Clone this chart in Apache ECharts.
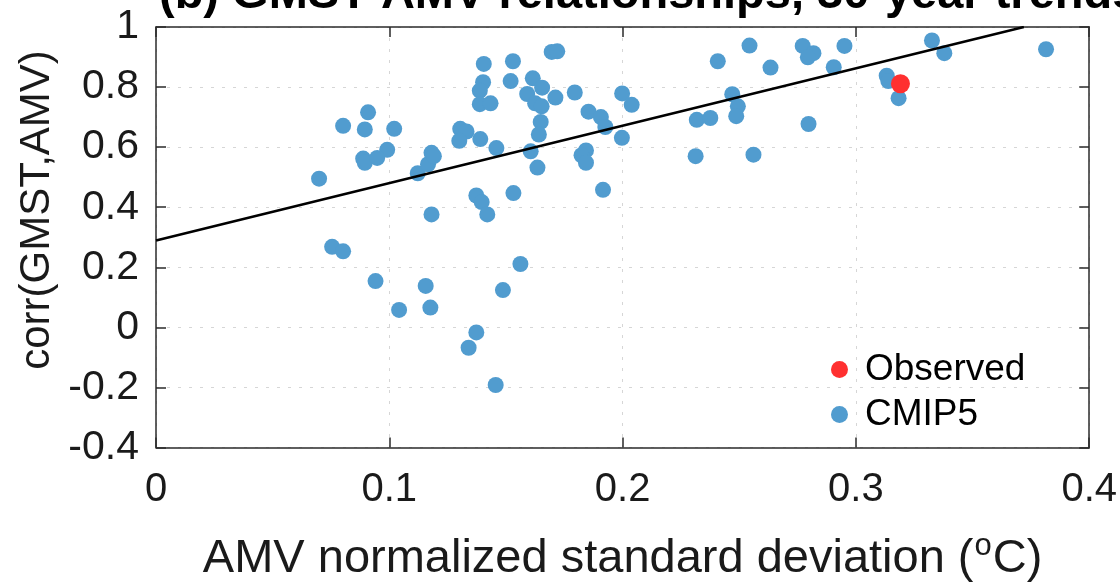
<!DOCTYPE html>
<html>
<head>
<meta charset="utf-8">
<script src="https://cdn.jsdelivr.net/npm/echarts@6/dist/echarts.min.js"></script>
<style>
html,body{margin:0;padding:0;background:#fff;}
#c{width:1120px;height:588px;}
</style>
</head>
<body>
<div id="c"></div>
<script>
// ---- data ----
const cmipX = [0.0699,0.0755,0.0802,0.0802,0.0909,0.0895,0.1021,0.0991,0.0888,0.0895,
  0.0948,0.1122,0.1166,0.1181,0.1191,0.1181,0.0941,0.1042,0.1156,0.1176,
  0.1304,0.1331,0.1300,0.1373,0.1396,0.1420,0.1340,0.1373,0.1456,0.1487,
  0.1562,0.1405,0.1402,0.1388,0.1388,0.1434,0.1390,0.1459,0.1530,0.1520,
  0.1532,0.1696,0.1720,0.1615,0.1655,0.1591,0.1625,0.1653,0.1712,0.1649,
  0.1641,0.1606,0.1635,0.1795,0.1854,0.1907,0.1926,0.1843,0.1824,0.1843,
  0.1916,0.1998,0.2039,0.1997,0.2408,0.2544,0.2634,0.2470,0.2494,0.2487,
  0.2318,0.2376,0.2313,0.2561,0.2772,0.2818,0.2794,0.2951,0.2905,0.2797,
  0.3326,0.3379,0.3815,0.3132,0.3139,0.3183];
const cmipY = [0.495,0.268,0.253,0.671,0.716,0.659,0.661,0.591,0.562,0.548,
  0.564,0.513,0.543,0.581,0.570,0.376,0.154,0.058,0.138,0.066,
  0.661,0.652,0.621,0.439,0.417,0.376,-0.068,-0.017,-0.192,0.124,
  0.211,0.877,0.816,0.788,0.743,0.746,0.627,0.597,0.886,0.820,
  0.447,0.917,0.919,0.829,0.798,0.777,0.746,0.736,0.765,0.684,
  0.642,0.586,0.532,0.782,0.718,0.700,0.667,0.589,0.573,0.548,
  0.458,0.779,0.741,0.631,0.886,0.938,0.865,0.776,0.736,0.703,
  0.691,0.697,0.570,0.575,0.937,0.913,0.899,0.937,0.866,0.677,
  0.955,0.913,0.926,0.838,0.820,0.763];
const obsX = [0.3191];
const obsY = [0.811];
const trendX = [0, 0.372];
const trendY = [0.289, 1.0];
const seriesNames = ['Observed', 'CMIP5'];
const titleText = '(b) GMST-AMV relationships, 30-year trends';
const yAxisTitle = 'corr(GMST,AMV)';
const xAxisTitleParts = ['AMV normalized standard deviation (', 'o', 'C)'];

// ---- chart ----
const FONT = '"Liberation Sans", Arial, Helvetica, sans-serif';
const AXC = '#2b2b2b';
const TXT = '#1a1a1a';
const zip = (a, b) => a.map((v, i) => [v, b[i]]);

const chart = echarts.init(document.getElementById('c'), null, {renderer: 'canvas'});
const gridLine = {show: true, lineStyle: {color: '#d6d6d6', width: 1, type: [3, 8]}};
const common = {
  axisLine: {show: true, onZero: false, lineStyle: {color: AXC, width: 1.5}},
  axisTick: {show: true, inside: true, length: 10, lineStyle: {color: AXC, width: 1.5}},
};
chart.setOption({
  animation: false,
  backgroundColor: '#ffffff',
  title: {
    text: titleText, left: 154, top: -33,
    textStyle: {fontFamily: FONT, fontSize: 47, fontWeight: 'bold', color: '#000'}
  },
  grid: {left: 156, right: 30, top: 27, bottom: 135, containLabel: false},
  legend: {
    orient: 'vertical', left: 826, top: 346, itemGap: 8,
    itemWidth: 41, itemHeight: 17, icon: 'circle',
    data: seriesNames,
    textStyle: {fontFamily: FONT, fontSize: 37, color: '#000'}
  },
  xAxis: [
    Object.assign({
      type: 'value', min: 0, max: 0.4, interval: 0.1, position: 'bottom',
      splitLine: gridLine,
      axisLabel: {fontFamily: FONT, fontSize: 40, color: TXT, margin: 22},
      name: '{a|' + xAxisTitleParts[0] + '}{s|' + xAxisTitleParts[1] + '}{a|' + xAxisTitleParts[2] + '}',
      nameLocation: 'middle', nameGap: 83,
      nameTextStyle: {
        fontFamily: FONT, fontSize: 47, color: TXT,
        rich: {
          a: {fontFamily: FONT, fontSize: 47, color: TXT},
          s: {fontFamily: FONT, fontSize: 31, color: TXT, padding: [0, 1, 27, 1]}
        }
      }
    }, common),
    Object.assign({
      type: 'value', min: 0, max: 0.4, interval: 0.1, position: 'top',
      splitLine: {show: false}, axisLabel: {show: false}
    }, common)
  ],
  yAxis: [
    Object.assign({
      type: 'value', min: -0.4, max: 1, interval: 0.2, position: 'left',
      splitLine: gridLine,
      axisLabel: {fontFamily: FONT, fontSize: 41, color: TXT, margin: 17}
    }, common),
    Object.assign({
      type: 'value', min: -0.4, max: 1, interval: 0.2, position: 'right',
      splitLine: {show: false}, axisLabel: {show: false}
    }, common)
  ],
  graphic: [{
    type: 'text', x: 37, y: 210, rotation: Math.PI / 2,
    style: {text: yAxisTitle, fontFamily: FONT, fontSize: 42, fill: TXT,
      textAlign: 'center', textVerticalAlign: 'middle'}
  }],
  series: [
    {
      name: 'CMIP5', type: 'scatter', symbol: 'circle', symbolSize: 16, z: 2,
      itemStyle: {color: '#519ccf', opacity: 1},
      data: zip(cmipX, cmipY)
    },
    {
      name: 'trend', type: 'line', symbol: 'none', z: 3, silent: true,
      lineStyle: {color: '#000', width: 2.5},
      data: zip(trendX, trendY)
    },
    {
      name: 'Observed', type: 'scatter', symbol: 'circle', symbolSize: 19, z: 4,
      itemStyle: {color: '#ff3030', opacity: 1},
      data: zip(obsX, obsY)
    }
  ]
});
</script>
</body>
</html>
